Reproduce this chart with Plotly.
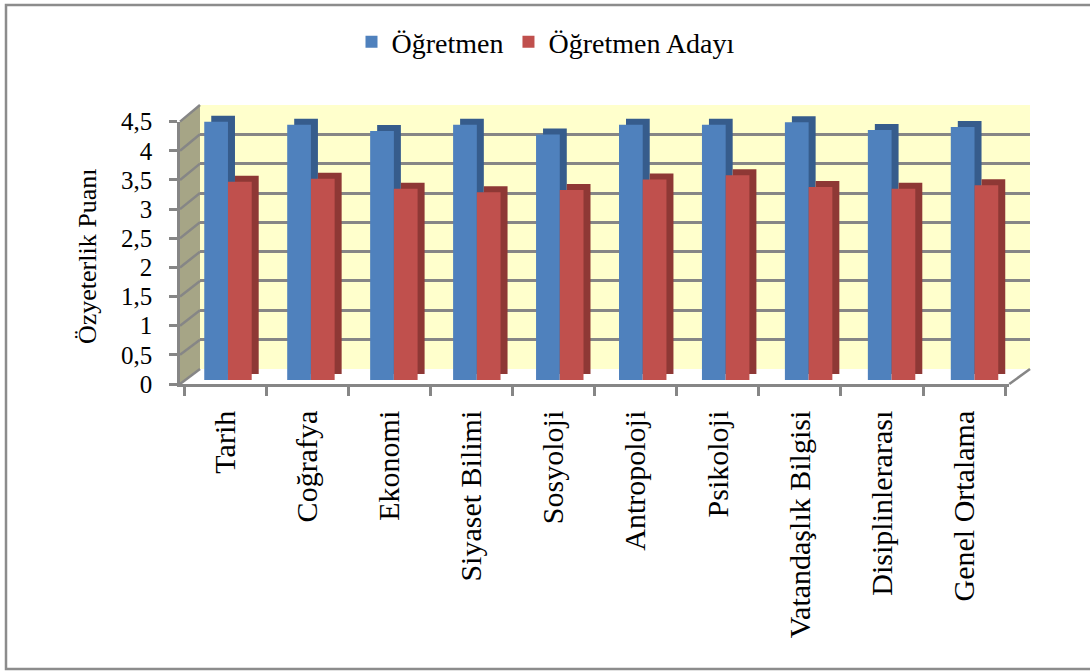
import plotly.graph_objects as go

# ---------------- data ----------------
categories = ["Tarih", "Coğrafya", "Ekonomi", "Siyaset Bilimi", "Sosyoloji",
              "Antropoloji", "Psikoloji", "Vatandaşlık Bilgisi",
              "Disiplinlerarası", "Genel Ortalama"]
ogretmen = [4.43, 4.38, 4.27, 4.38, 4.21, 4.38, 4.38, 4.42, 4.29, 4.34]
ogretmen_adayi = [3.40, 3.45, 3.28, 3.22, 3.26, 3.44, 3.51, 3.31, 3.28, 3.34]
series_names = ["Öğretmen", "Öğretmen Adayı"]
y_ticks = [0, 0.5, 1, 1.5, 2, 2.5, 3, 3.5, 4, 4.5]
y_title = "Özyeterlik Puanı"

# ---------------- geometry (pixels) ----------------
W, H = 1090, 671
def fx(px):
    return px / W
def fy(py):
    return 1 - py / H

YMAX = 4.5
FONT = "Liberation Serif, Times New Roman, serif"
GRID = "#868686"
BLUE, RED = "#4f81bd", "#c0504d"
BLUE_D, RED_D = "#365c8c", "#8e3835"

# front axis box
FX0, FX1, FY0 = 180, 1009.3, 384
FSCALE = 58.3
# back wall
BX0, BX1, BY0 = 200, 1030, 369
BSCALE = 58.67
# bar front faces
PX0, PX1, PY0 = 186.5, 1016, 380
PSCALE = 58.3
# depth offset (right, up)
DX, DY = 7, 6

fig = go.Figure()

# back wall (xy) helper trace
fig.add_trace(go.Scatter(x=categories, y=ogretmen, mode="markers",
                         marker=dict(opacity=0), showlegend=False,
                         hoverinfo="skip", xaxis="x", yaxis="y"))
# depth bars (x2y2)
for vals, col in [(ogretmen, BLUE_D), (ogretmen_adayi, RED_D)]:
    fig.add_trace(go.Bar(x=categories, y=vals, marker=dict(color=col, line=dict(width=0)),
                         showlegend=False, hoverinfo="skip", xaxis="x2", yaxis="y2"))
# front bars (x3y3)
for vals, col, nm in [(ogretmen, BLUE, series_names[0]), (ogretmen_adayi, RED, series_names[1])]:
    fig.add_trace(go.Bar(x=categories, y=vals, name=nm,
                         marker=dict(color=col, line=dict(width=0)),
                         xaxis="x3", yaxis="y3"))
# front labelled axes (x4y4)
fig.add_trace(go.Scatter(x=categories, y=ogretmen, mode="markers",
                         marker=dict(opacity=0), showlegend=False,
                         hoverinfo="skip", xaxis="x4", yaxis="y4"))

hidden_x = dict(showgrid=False, zeroline=False, showline=False, showticklabels=False,
                ticks="", automargin=False, fixedrange=True)
hidden_y = dict(showgrid=False, zeroline=False, showline=False, showticklabels=False,
                ticks="", automargin=False, range=[0, YMAX], fixedrange=True)

layout = dict(
    width=W, height=H,
    margin=dict(l=0, r=0, t=0, b=0),
    paper_bgcolor="white", plot_bgcolor="rgba(0,0,0,0)",
    separators=",.",
    barmode="group", bargap=0.428, bargroupgap=0,
    font=dict(family=FONT, color="black"),
    showlegend=True,
    legend=dict(orientation="h", x=fx(546), xanchor="center", y=fy(17), yanchor="top",
                font=dict(family=FONT, size=28, color="black"),
                bgcolor="rgba(0,0,0,0)", itemwidth=30, traceorder="normal"),
    xaxis=dict(hidden_x, domain=[fx(BX0), fx(BX1)], anchor="y"),
    yaxis=dict(domain=[fy(BY0), fy(BY0 - YMAX * BSCALE)], anchor="x",
               range=[-0.004, YMAX + 0.004], tickvals=y_ticks, showgrid=True,
               gridcolor=GRID, gridwidth=2.5, zeroline=False, showline=False,
               showticklabels=False, ticks="", automargin=False, fixedrange=True),
    xaxis2=dict(hidden_x, domain=[fx(PX0 + DX), fx(PX1 + DX)], anchor="y2"),
    yaxis2=dict(hidden_y, domain=[fy(PY0 - DY), fy(PY0 - DY - YMAX * PSCALE)], anchor="x2"),
    xaxis3=dict(hidden_x, domain=[fx(PX0), fx(PX1)], anchor="y3"),
    yaxis3=dict(hidden_y, domain=[fy(PY0), fy(PY0 - YMAX * PSCALE)], anchor="x3"),
    xaxis4=dict(domain=[fx(FX0), fx(FX1)], anchor="y4", showgrid=False, zeroline=False,
                showline=True, linecolor=GRID, linewidth=2.5,
                ticks="outside", tickson="boundaries", ticklen=9, tickwidth=2.5,
                tickcolor=GRID, tickangle=-90, ticklabelstandoff=12,
                tickfont=dict(family=FONT, size=30, color="black"),
                automargin=False, fixedrange=True),
    yaxis4=dict(domain=[fy(FY0), fy(FY0 - YMAX * FSCALE)], anchor="x4",
                range=[0, YMAX], tickvals=y_ticks, showgrid=False, zeroline=False,
                showline=True, linecolor=GRID, linewidth=2.5,
                ticks="outside", ticklen=8, tickwidth=2.5, tickcolor=GRID,
                ticklabelstandoff=12,
                tickfont=dict(family=FONT, size=25, color="black"),
                automargin=False, fixedrange=True),
)
fig.update_layout(**layout)

shapes = []
# outer border (top, left, bottom)
border = "M {r},{t} L {l},{t} L {l},{b} L {r},{b}".format(
    l=fx(6), r=fx(1090), t=fy(5), b=fy(669))
shapes.append(dict(type="path", xref="paper", yref="paper", path=border,
                   line=dict(color="#8c8c8c", width=2.5), fillcolor="rgba(0,0,0,0)",
                   layer="below"))
# back wall
shapes.append(dict(type="rect", xref="paper", yref="paper",
                   x0=fx(BX0), x1=fx(BX1), y0=fy(BY0), y1=fy(BY0 - YMAX * BSCALE),
                   line=dict(width=0), fillcolor="#ffffcc", layer="below"))
# side wall
sw = "M {a},{b} L {a},{c} L {d},{e} L {d},{f} Z".format(
    a=fx(FX0), b=fy(FY0), c=fy(FY0 - YMAX * FSCALE),
    d=fx(BX0), e=fy(BY0 - YMAX * BSCALE), f=fy(BY0))
shapes.append(dict(type="path", xref="paper", yref="paper", path=sw,
                   line=dict(width=0), fillcolor="#a6a586", layer="below"))
# side wall grid lines
for v in y_ticks:
    shapes.append(dict(type="line", xref="paper", yref="paper",
                       x0=fx(FX0), y0=fy(FY0 - v * FSCALE),
                       x1=fx(BX0), y1=fy(BY0 - v * BSCALE),
                       line=dict(color=GRID, width=2.5), layer="below"))
# floor right edge
shapes.append(dict(type="line", xref="paper", yref="paper",
                   x0=fx(FX1), y0=fy(FY0), x1=fx(BX1), y1=fy(BY0),
                   line=dict(color=GRID, width=2.5), layer="below"))
fig.update_layout(shapes=shapes)

fig.add_annotation(text=y_title, xref="paper", yref="paper", x=fx(87), y=fy(257),
                   xanchor="center", yanchor="middle",
                   showarrow=False, textangle=-90,
                   font=dict(family=FONT, size=26, color="black"))

fig.write_html("out.html",
               config={"displayModeBar": False},
               post_script="document.body.style.margin='0';"
                           "document.body.style.overflow='hidden';")
